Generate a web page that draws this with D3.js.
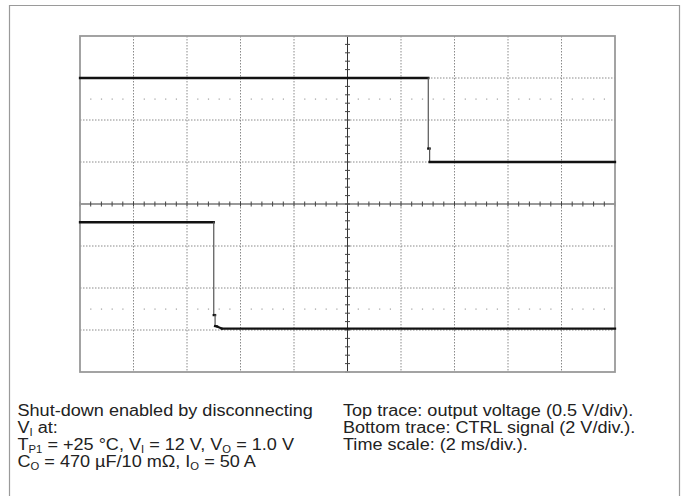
<!DOCTYPE html>
<html>
<head>
<meta charset="utf-8">
<script src="https://cdn.jsdelivr.net/npm/d3@7"></script>
<style>
  body { margin: 0; background: #fff; }
  svg { display: block; }
</style>
</head>
<body>
<div id="chart"></div>
<script>
// Trace data (time in ms, value in volts)
const topTime = [0, 13.02, 13.02, 13.07, 13.07, 20];
const topVolt = [1.0, 1.0, 0.16, 0.16, 0.0, 0.0];
const ctrlTime = [0, 5.0, 5.0, 5.05, 5.05, 5.12, 5.3, 20];
const ctrlVolt = [5.13, 5.13, 0.71, 0.71, 0.19, 0.17, 0.07, 0.07];

// Channel settings: volts per division and ground offset in divisions
const topVoltsPerDiv = 0.5, topOffsetDiv = 1;
const ctrlVoltsPerDiv = 2, ctrlOffsetDiv = -3;

// Caption lines: [text, isSubscript] pieces
const leftLines = [
  [["Shut-down enabled by disconnecting", false]],
  [["V", false], ["I", true], [" at:", false]],
  [["T", false], ["P1", true], [" = +25 °C, V", false], ["I", true], [" = 12 V, V", false], ["O", true], [" = 1.0 V", false]],
  [["C", false], ["O", true], [" = 470 µF/10 mΩ, I", false], ["O", true], [" = 50 A", false]]
];
const rightLines = [
  "Top trace: output voltage (0.5 V/div).",
  "Bottom trace: CTRL signal (2 V/div.).",
  "Time scale: (2 ms/div.)."
];

function drawChart() {
  const width = 681, height = 496;
  const plot = { left: 80, top: 36, right: 615, bottom: 372 };

  d3.select("#chart svg").remove();
  const svg = d3.select("#chart").append("svg")
    .attr("width", width)
    .attr("height", height);

  // Outer frame (top, left, right only)
  svg.append("path")
    .attr("d", `M9.5,${height + 2}V5.5H679.5V${height + 2}`)
    .attr("fill", "none")
    .attr("stroke", "#9a9a9a")
    .attr("stroke-width", 1.2);

  // Scales: 10 horizontal divisions, 8 vertical divisions
  const x = d3.scaleLinear().domain([0, 20]).range([plot.left, plot.right]);
  const y = d3.scaleLinear().domain([-4, 4]).range([plot.bottom, plot.top]);

  const grid = svg.append("g");

  // Dotted grid lines
  const xGrid = d3.range(2, 20, 2).filter(d => d !== 10);
  const yGrid = d3.range(-3, 4, 1).filter(d => d !== 0);
  grid.selectAll(".vg").data(xGrid).enter().append("line")
    .attr("x1", d => x(d)).attr("x2", d => x(d))
    .attr("y1", plot.top).attr("y2", plot.bottom)
    .attr("stroke", "#8a8a8a").attr("stroke-width", 1)
    .attr("stroke-dasharray", "1.5,1.5");
  grid.selectAll(".hg").data(yGrid).enter().append("line")
    .attr("x1", plot.left).attr("x2", plot.right)
    .attr("y1", d => y(d)).attr("y2", d => y(d))
    .attr("stroke", "#8a8a8a").attr("stroke-width", 1)
    .attr("stroke-dasharray", "1.5,1.5");

  // Dotted marker rows at +/-2.5 div (dots every minor division)
  const minorX = d3.range(0, 20.01, 0.4).filter(d => Math.abs(d / 2 - Math.round(d / 2)) > 0.01);
  [2.5, -2.5].forEach(r => {
    grid.selectAll(null).data(minorX).enter().append("rect")
      .attr("x", d => x(d) - 0.5).attr("y", y(r) - 0.5)
      .attr("width", 1.2).attr("height", 1.2)
      .attr("fill", "#a0a0a0");
  });

  // Center crosshair
  grid.append("line")
    .attr("x1", plot.left).attr("x2", plot.right)
    .attr("y1", y(0)).attr("y2", y(0))
    .attr("stroke", "#999").attr("stroke-width", 2);
  grid.append("line")
    .attr("x1", x(10)).attr("x2", x(10))
    .attr("y1", plot.top).attr("y2", plot.bottom)
    .attr("stroke", "#333").attr("stroke-width", 1);

  const hTicks = d3.range(0, 20.01, 0.4);
  grid.selectAll(".ht").data(hTicks).enter().append("line")
    .attr("x1", d => x(d)).attr("x2", d => x(d))
    .attr("y1", y(0) - 2.5).attr("y2", y(0) + 2.5)
    .attr("stroke", "#444").attr("stroke-width", 1);
  const vTicks = d3.range(-4, 4.01, 0.2);
  grid.selectAll(".vt").data(vTicks).enter().append("line")
    .attr("x1", x(10) - 2.5).attr("x2", x(10) + 2.5)
    .attr("y1", d => y(d)).attr("y2", d => y(d))
    .attr("stroke", "#444").attr("stroke-width", 1);

  // Plot frame
  grid.append("rect")
    .attr("x", plot.left).attr("y", plot.top)
    .attr("width", plot.right - plot.left).attr("height", plot.bottom - plot.top)
    .attr("fill", "none")
    .attr("stroke", "#999").attr("stroke-width", 1.8);

  // Traces: flat parts black and thick, fast edges thin and grey
  function drawTrace(times, volts, vpd, offset) {
    const pts = times.map((t, i) => [x(t), y(volts[i] / vpd + offset)]);
    const segs = d3.pairs(pts);
    svg.append("g").selectAll("line").data(segs).enter().append("line")
      .attr("x1", d => d[0][0]).attr("y1", d => d[0][1])
      .attr("x2", d => d[1][0]).attr("y2", d => d[1][1])
      .attr("stroke", d => Math.abs(d[1][1] - d[0][1]) > 6 ? "#555" : "#111")
      .attr("stroke-width", d => Math.abs(d[1][1] - d[0][1]) > 6 ? 1.2 : 2.3)
      .attr("stroke-linecap", "square");
  }
  drawTrace(topTime, topVolt, topVoltsPerDiv, topOffsetDiv);
  drawTrace(ctrlTime, ctrlVolt, ctrlVoltsPerDiv, ctrlOffsetDiv);

  // Caption text
  const fontSize = 16, stretch = 1.13, lineH = 17;
  const caption = svg.append("g")
    .attr("font-family", "'Liberation Sans', Arial, sans-serif")
    .attr("font-size", fontSize)
    .attr("fill", "#222");

  leftLines.forEach((parts, i) => {
    const t = caption.append("text")
      .attr("transform", `translate(17.5,${416 + i * lineH}) scale(${stretch},1)`);
    let shifted = false;
    parts.forEach(([str, sub]) => {
      const ts = t.append("tspan").text(str);
      if (sub && !shifted) { ts.attr("dy", 2.5).attr("font-size", 10); shifted = true; }
      else if (sub) { ts.attr("font-size", 10); }
      else if (shifted) { ts.attr("dy", -2.5); shifted = false; }
    });
  });

  rightLines.forEach((str, i) => {
    caption.append("text")
      .attr("transform", `translate(343,${416 + i * lineH}) scale(${stretch},1)`)
      .text(str);
  });
}

drawChart();
</script>
</body>
</html>
